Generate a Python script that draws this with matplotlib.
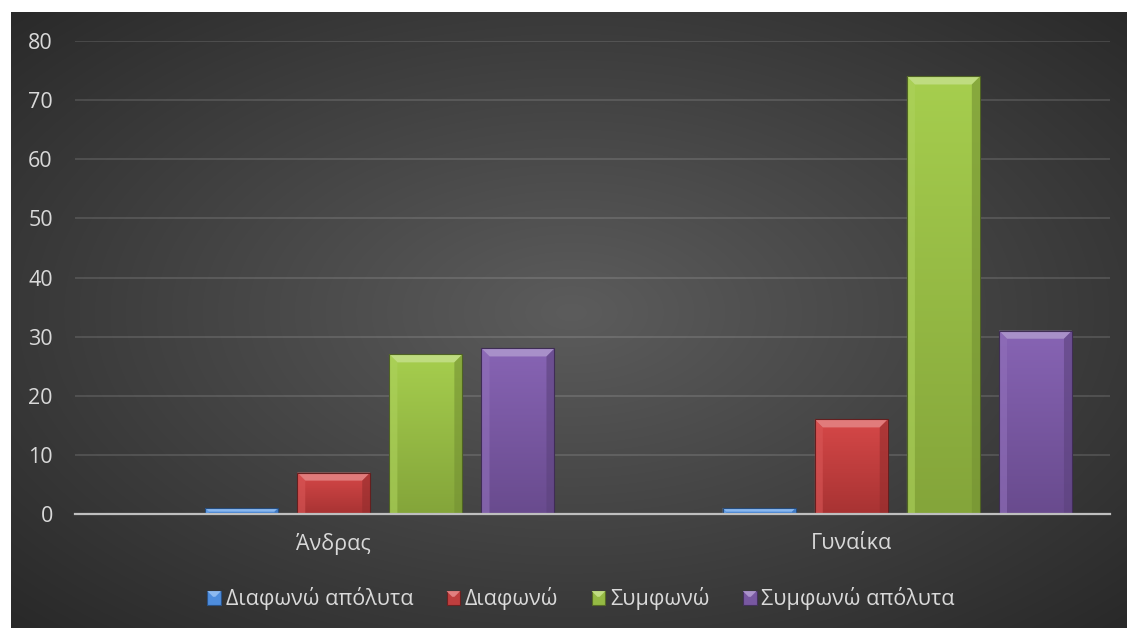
import numpy as np
import matplotlib
matplotlib.use("Agg")
import matplotlib.pyplot as plt
from matplotlib.patches import Rectangle, Polygon
from matplotlib.legend_handler import HandlerBase
from matplotlib.colors import to_rgb


# =========================
# DATA
# =========================
categories = ["Άνδρας", "Γυναίκα"]
series_names = ["Διαφωνώ απόλυτα", "Διαφωνώ", "Συμφωνώ", "Συμφωνώ απόλυτα"]
diafono_apolyta = [1, 1]
diafono = [7, 16]
symfono = [27, 74]
symfono_apolyta = [28, 31]
y_ticks = [0, 10, 20, 30, 40, 50, 60, 70, 80]

# top / bottom shade of each series
top_colors = ["#5c9cea", "#d64848", "#a6ce4e", "#8764b4"]
bottom_colors = ["#3f7ecf", "#a83333", "#84a53a", "#694b8e"]

W, H = 1127, 628
TEXT = "#d9d9d9"
plt.rcParams["font.family"] = ["Open Sans", "DejaVu Sans"]


def mix(c, other, t):
    c = np.array(to_rgb(c))
    o = np.array(to_rgb(other))
    return tuple(c + (o - c) * t)


def bevel_polys(X0, Y0, X1, Y1, d):
    top = [(X0, Y1), (X1, Y1), (X1 - d, Y1 - d), (X0 + d, Y1 - d)]
    left = [(X0, Y0), (X0, Y1), (X0 + d, Y1 - d), (X0 + d, Y0)]
    right = [(X1, Y0), (X1, Y1), (X1 - d, Y1 - d), (X1 - d, Y0)]
    return top, left, right


def shade_bar(ax, rect, c_top, c_bot):
    x0, y0 = rect.get_x(), rect.get_y()
    w, h = rect.get_width(), rect.get_height()
    # vertical gradient inside the bar
    grad = np.linspace(0, 1, 64)[:, None, None]
    img = np.array(to_rgb(c_top)) * (1 - grad) + np.array(to_rgb(c_bot)) * grad
    im = ax.imshow(img, extent=(x0, x0 + w, y0, y0 + h), aspect="auto",
                   origin="upper", zorder=2.5, interpolation="bilinear")
    im.set_clip_path(rect)

    # bevel edges, sized in pixels
    (X0, Y0), (X1, Y1) = ax.transData.transform([(x0, y0), (x0 + w, y0 + h)])
    d = min(8.0, (Y1 - Y0) * 0.6, (X1 - X0) / 2)
    inv = ax.transData.inverted()
    top, left, right = bevel_polys(X0, Y0, X1, Y1, d)
    for pts, col, a in [(top, mix(c_top, "white", 0.3), 0.95),
                        (left, mix(c_top, "white", 0.08), 0.6),
                        (right, mix(c_bot, "black", 0.12), 0.6)]:
        ax.add_patch(Polygon(inv.transform(pts), closed=True, facecolor=col,
                             edgecolor="none", zorder=2.6, alpha=a))
    ax.add_patch(Rectangle((x0, y0), w, h, fill=False,
                           edgecolor=mix(c_bot, "black", 0.4), lw=0.8, zorder=2.7))


class BevelSquare(HandlerBase):
    def create_artists(self, legend, orig_handle, xdescent, ydescent,
                       width, height, fontsize, trans):
        c_top = orig_handle.get_facecolor()
        c_bot = orig_handle.get_edgecolor()
        x0, y0 = -xdescent, -ydescent
        s = height
        base = Rectangle((x0, y0), s, s, facecolor=mix(c_top, c_bot, 0.5),
                         edgecolor=mix(c_bot, "black", 0.35), lw=0.8, transform=trans)
        d = s * 0.42
        tri = Polygon([(x0, y0 + s), (x0 + s, y0 + s), (x0 + s - d, y0 + s - d),
                       (x0 + d, y0 + s - d)], closed=True,
                      facecolor=mix(c_top, "white", 0.3), edgecolor="none", transform=trans)
        return [base, tri]


fig = plt.figure(figsize=(W / 100, H / 100), dpi=100)
fig.patch.set_facecolor("white")

# radial background
bg = fig.add_axes([11 / W, 0, (W - 11) / W, (H - 12) / H], zorder=-5)
yy, xx = np.mgrid[0:H - 12, 0:W - 11]
cx, cy = 560, 300
r = np.sqrt(((xx - cx) / 565.0) ** 2 + ((yy - cy) / 320.0) ** 2) / np.sqrt(2)
r = np.clip(r, 0, 1)
val = (92 - 52 * r) / 255.0
bg.imshow(np.dstack([val, val, val]), aspect="auto", interpolation="bilinear")
bg.axis("off")

ax = fig.add_axes([75 / W, (H - 514) / H, (1110 - 75) / W, (514 - 41) / H])
ax.set_facecolor("none")
ax.set_xlim(-0.5, 1.5)
ax.set_ylim(0, 80)

# five slots per category, the first one stays empty
slot = 0.178
bar_w = 0.141
x = np.arange(len(categories))
values = [diafono_apolyta, diafono, symfono, symfono_apolyta]

handles = []
for k, vals in enumerate(values):
    bars = ax.bar(x + (k - 1) * slot, vals, width=bar_w, color=top_colors[k],
                  edgecolor="none", zorder=2)
    for rect in bars:
        shade_bar(ax, rect, top_colors[k], bottom_colors[k])
    handles.append(Rectangle((0, 0), 1, 1, facecolor=top_colors[k],
                             edgecolor=bottom_colors[k], label=series_names[k]))

ax.set_xlim(-0.5, 1.5)
ax.set_ylim(0, 80)

ax.set_yticks(y_ticks)
ax.set_xticks(x)
ax.set_xticklabels(categories)
ax.tick_params(axis="both", length=0, colors=TEXT, labelsize=15.5)
ax.tick_params(axis="y", pad=16)
ax.tick_params(axis="x", pad=14)
ax.yaxis.grid(True, color="white", alpha=0.12, lw=1.5, zorder=0)
ax.set_axisbelow(True)
for side in ["top", "right", "left"]:
    ax.spines[side].set_visible(False)
ax.spines["bottom"].set_color("#bfbfbf")
ax.spines["bottom"].set_linewidth(1.6)
ax.spines["bottom"].set_zorder(3)

fig.legend(handles=handles, handler_map={Rectangle: BevelSquare()},
           loc="center", bbox_to_anchor=(581 / W, 29 / H), ncol=4, frameon=False,
           fontsize=15.5, labelcolor=TEXT, handlelength=0.6, handleheight=0.6,
           handletextpad=0.25, columnspacing=1.55)

fig.savefig("out.png", dpi=100)
